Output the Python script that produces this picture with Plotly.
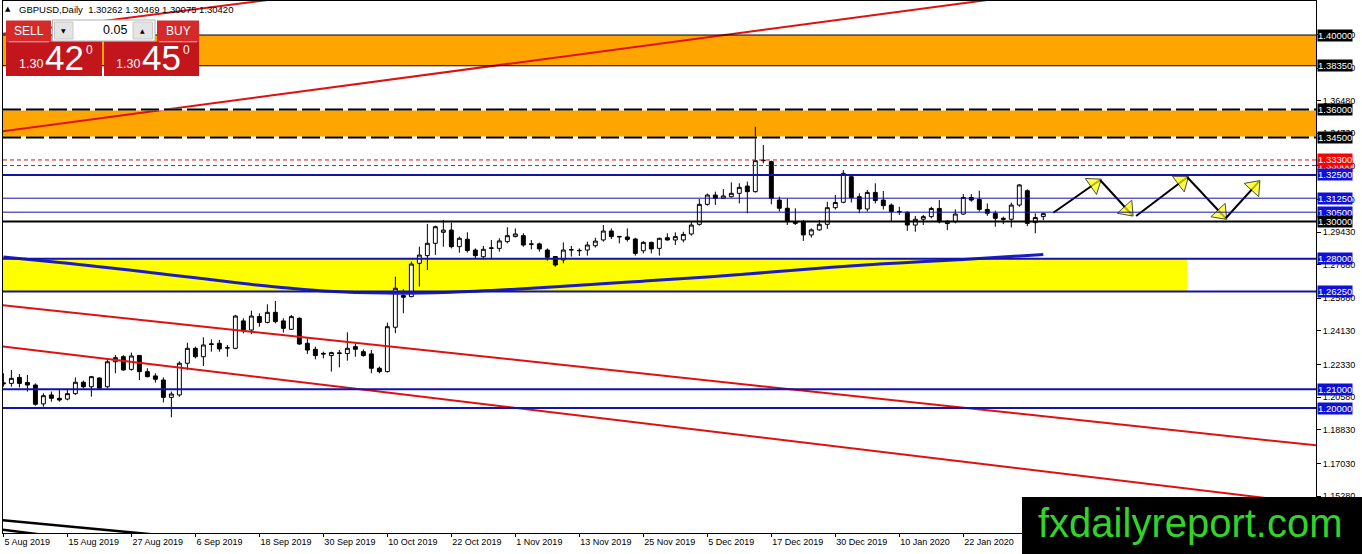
import numpy as np
import pandas as pd
import plotly.graph_objects as go

# ---------------- data ----------------
dates = pd.bdate_range("2019-08-05", "2020-02-05")
dates = dates[~dates.isin(pd.to_datetime(["2019-12-25", "2020-01-01"]))]

opens = [1.2135, 1.2132, 1.2164, 1.2137, 1.2123, 1.2022, 1.2070, 1.2052, 1.2048, 1.2077,
         1.2138, 1.2114, 1.2161, 1.2114, 1.2248, 1.2275, 1.2207, 1.2282, 1.2195, 1.2172,
         1.2150, 1.2057, 1.2070, 1.2240, 1.2320, 1.2275, 1.2344, 1.2347, 1.2323, 1.2320,
         1.2467, 1.2418, 1.2490, 1.2459, 1.2513, 1.2467, 1.2422, 1.2481, 1.2347, 1.2315,
         1.2293, 1.2281, 1.2292, 1.2292, 1.2329, 1.2302, 1.2290, 1.2213, 1.2195, 1.2433,
         1.2603, 1.2597, 1.2776, 1.2817, 1.2883, 1.2942, 1.2954, 1.2865, 1.2905, 1.2847,
         1.2811, 1.2856, 1.2856, 1.2892, 1.2919, 1.2924, 1.2880, 1.2880, 1.2847, 1.2812,
         1.2794, 1.2847, 1.2843, 1.2847, 1.2870, 1.2901, 1.2949, 1.2920, 1.2917, 1.2906,
         1.2843, 1.2888, 1.2856, 1.2913, 1.2901, 1.2901, 1.2933, 1.2985, 1.3092, 1.3142,
         1.3124, 1.3133, 1.3151, 1.3190, 1.3160, 1.3326, 1.3321, 1.3115, 1.3071, 1.2999,
         1.2999, 1.2928, 1.2955, 1.2985, 1.3074, 1.3103, 1.3240, 1.3133, 1.3067, 1.3156,
         1.3115, 1.3088, 1.3054, 1.3050, 1.2981, 1.3012, 1.3026, 1.3070, 1.2989, 1.2999,
         1.3040, 1.3129, 1.3118, 1.3065, 1.3044, 1.3017, 1.3012, 1.3088, 1.3165, 1.2994,
         1.30262]
highs = [1.2186, 1.2204, 1.2182, 1.2177, 1.2132, 1.2079, 1.2088, 1.2097, 1.2097, 1.2164,
         1.2147, 1.2172, 1.2164, 1.2257, 1.2284, 1.2284, 1.2297, 1.2284, 1.2213, 1.2186,
         1.2164, 1.2088, 1.2250, 1.2350, 1.2329, 1.2379, 1.2368, 1.2365, 1.2338, 1.2499,
         1.2481, 1.2522, 1.2508, 1.2556, 1.2574, 1.2481, 1.2499, 1.2486, 1.2374, 1.2329,
         1.2302, 1.2302, 1.2311, 1.2406, 1.2347, 1.2314, 1.2311, 1.2222, 1.2458, 1.2704,
         1.2637, 1.2785, 1.2865, 1.2987, 1.2978, 1.3008, 1.2994, 1.2919, 1.2942, 1.2856,
         1.2869, 1.2901, 1.2910, 1.2969, 1.2963, 1.2937, 1.2901, 1.2887, 1.2856, 1.2815,
         1.2888, 1.2869, 1.2856, 1.2892, 1.2913, 1.2981, 1.2963, 1.2922, 1.2963, 1.2913,
         1.2895, 1.2892, 1.2913, 1.2937, 1.2942, 1.2945, 1.3003, 1.3121, 1.3150, 1.3160,
         1.3174, 1.3210, 1.3205, 1.3214, 1.3508, 1.3410, 1.3326, 1.3133, 1.3124, 1.3071,
         1.3008, 1.2963, 1.3008, 1.3106, 1.3142, 1.3276, 1.3245, 1.3151, 1.3169, 1.3205,
         1.3164, 1.3097, 1.3079, 1.3053, 1.3030, 1.3035, 1.3079, 1.3115, 1.3008, 1.3065,
         1.3147, 1.3147, 1.3165, 1.3097, 1.3058, 1.3026, 1.3101, 1.3201, 1.3172, 1.3044,
         1.30469]
lows = [1.2114, 1.2114, 1.2110, 1.2088, 1.2012, 1.2007, 1.2034, 1.2034, 1.2041, 1.2070,
        1.2106, 1.2061, 1.2100, 1.2106, 1.2186, 1.2200, 1.2200, 1.2150, 1.2164, 1.2136,
        1.2030, 1.1950, 1.2060, 1.2204, 1.2266, 1.2225, 1.2302, 1.2302, 1.2275, 1.2315,
        1.2400, 1.2397, 1.2436, 1.2454, 1.2454, 1.2404, 1.2418, 1.2338, 1.2290, 1.2261,
        1.2266, 1.2195, 1.2218, 1.2254, 1.2275, 1.2275, 1.2186, 1.2186, 1.2191, 1.2401,
        1.2508, 1.2594, 1.2651, 1.2740, 1.2821, 1.2865, 1.2856, 1.2833, 1.2833, 1.2797,
        1.2797, 1.2797, 1.2838, 1.2883, 1.2915, 1.2865, 1.2851, 1.2838, 1.2790, 1.2758,
        1.2776, 1.2812, 1.2815, 1.2817, 1.2860, 1.2892, 1.2906, 1.2883, 1.2892, 1.2817,
        1.2829, 1.2829, 1.2817, 1.2897, 1.2874, 1.2888, 1.2924, 1.2978, 1.3085, 1.3089,
        1.3120, 1.3128, 1.3097, 1.3044, 1.3155, 1.3312, 1.3092, 1.3053, 1.2981, 1.2981,
        1.2896, 1.2914, 1.2950, 1.2960, 1.3064, 1.3098, 1.3102, 1.3044, 1.3053, 1.3097,
        1.3064, 1.2999, 1.3035, 1.2950, 1.2945, 1.2981, 1.3017, 1.2990, 1.2954, 1.2990,
        1.3035, 1.3106, 1.3053, 1.3030, 1.2972, 1.2986, 1.2968, 1.3079, 1.2975, 1.2937,
        1.30075]
closes = [1.2130, 1.2159, 1.2132, 1.2123, 1.2020, 1.2066, 1.2052, 1.2043, 1.2077, 1.2138,
          1.2114, 1.2168, 1.2106, 1.2248, 1.2270, 1.2204, 1.2279, 1.2195, 1.2168, 1.2154,
          1.2057, 1.2075, 1.2240, 1.2320, 1.2275, 1.2338, 1.2341, 1.2317, 1.2322, 1.2493,
          1.2415, 1.2493, 1.2459, 1.2513, 1.2463, 1.2427, 1.2490, 1.2343, 1.2311, 1.2281,
          1.2290, 1.2297, 1.2295, 1.2320, 1.2315, 1.2281, 1.2213, 1.2195, 1.2436, 1.2642,
          1.2594, 1.2772, 1.2820, 1.2883, 1.2972, 1.2954, 1.2865, 1.2910, 1.2844, 1.2817,
          1.2851, 1.2858, 1.2896, 1.2924, 1.2933, 1.2874, 1.2878, 1.2853, 1.2808, 1.2767,
          1.2847, 1.2849, 1.2845, 1.2874, 1.2895, 1.2949, 1.2919, 1.2918, 1.2904, 1.2829,
          1.2888, 1.2853, 1.2910, 1.2901, 1.2919, 1.2931, 1.2981, 1.3092, 1.3142, 1.3124,
          1.3137, 1.3151, 1.3183, 1.3160, 1.3326, 1.3328, 1.3124, 1.3071, 1.2999, 1.2990,
          1.2928, 1.2955, 1.2985, 1.3074, 1.3102, 1.3258, 1.3128, 1.3067, 1.3156, 1.3112,
          1.3085, 1.3053, 1.3052, 1.2981, 1.3012, 1.3026, 1.3070, 1.2999, 1.3001, 1.3040,
          1.3129, 1.3115, 1.3065, 1.3044, 1.3017, 1.3012, 1.3088, 1.3196, 1.2990, 1.3021,
          1.30420]

# moving average (bar index, value)
ma_idx = [0, 8, 16, 24, 32, 40, 48, 56, 64, 72, 80, 88, 96, 104, 112, 120, 130]
ma_val = [1.2810, 1.2776, 1.2738, 1.2698, 1.2658, 1.2628, 1.2616, 1.2621, 1.2637, 1.2658,
          1.2680, 1.2702, 1.2729, 1.2756, 1.2778, 1.2796, 1.2823]

# horizontal levels
level_black = [1.40000, 1.38350]
level_dashed = [1.36000, 1.34500]
level_red = [1.33000, 1.33300]
level_blue_thick = [1.32500, 1.28000, 1.26250, 1.21000, 1.20000]
level_blue_thin = [1.31250, 1.30500]
level_black_thick = [1.30000]

# zones
orange_zone_1 = [1.38350, 1.40000]
orange_zone_2 = [1.34500, 1.36000]
yellow_zone = [1.26250, 1.28000]
yellow_zone_end = 148.0

# trend lines: two anchors each (bar index, price)
up_line_main = [(-0.04, 1.34842), (120.84, 1.41753)]
up_line_upper = [(16.68, 1.40981), (30.43, 1.41732)]
down_line_upper = [(-0.04, 1.25512), (164.09, 1.17997)]
down_line_lower = [(-0.04, 1.23303), (152.7, 1.15442)]
black_line_a = [(-0.41, 1.13995), (16.84, 1.13298)]
black_line_b = [(-0.41, 1.13496), (3.16, 1.13298)]

# projected zig-zag arrows (bar index, price)
arrow_segments = [
    [(131.25, 1.30472), (137.1, 1.32225)],
    [(137.1, 1.32225), (141.1, 1.30349)],
    [(141.6, 1.30295), (148.0, 1.32370)],
    [(148.0, 1.32370), (152.8, 1.30172)],
    [(152.8, 1.30172), (156.96, 1.32134)],
]

y_ticks = [1.40030, 1.38230, 1.36480, 1.34730, 1.32980, 1.31180, 1.29430, 1.27680,
           1.25880, 1.24130, 1.22330, 1.20580, 1.18830, 1.17030, 1.15280, 1.13530]
x_tick_idx = list(range(0, 121, 8))
x_tick_text = [f"{dates[i].day} {dates[i].strftime('%b %Y')}" for i in x_tick_idx]

header_text = "GBPUSD,Daily  1.30262 1.30469 1.30075 1.30420"

# ---------------- geometry helpers ----------------
W, H = 1362, 554
L, R, T, B = 3, 1316, 1, 533
X_RANGE = [-0.05, 164.09]
Y_RANGE = [1.132976, 1.418231]


def px(x):
    return (x - L) / (R - L)


def py(y):
    return (B - y) / (B - T)


def extend(line, x0=-2.0, x1=170.0):
    (a, pa), (b, pb) = line
    s = (pb - pa) / (b - a)
    return [x0, x1], [pa + s * (x0 - a), pa + s * (x1 - a)]


FONT = "Liberation Sans"
BLUE_LINE = "#1313a8"
BLUE_LABEL = "#1010d8"
RED = "#e01010"

fig = go.Figure()

idx = list(range(len(opens)))
fig.add_trace(go.Candlestick(
    x=idx, open=opens, high=highs, low=lows, close=closes,
    increasing=dict(fillcolor="white", line=dict(color="black", width=1)),
    decreasing=dict(fillcolor="black", line=dict(color="black", width=1)),
    whiskerwidth=0, hoverinfo="skip", showlegend=False))

fig.add_trace(go.Scatter(x=ma_idx, y=ma_val, mode="lines",
                         line=dict(color="#1c1cc4", width=3, shape="spline", smoothing=1.0),
                         hoverinfo="skip"))

for ln, col, w in [(up_line_main, RED, 2), (up_line_upper, RED, 2),
                   (down_line_upper, RED, 2), (down_line_lower, RED, 2),
                   (black_line_a, "black", 2.5), (black_line_b, "black", 2.5)]:
    xs, ys = extend(ln)
    fig.add_trace(go.Scatter(x=xs, y=ys, mode="lines",
                             line=dict(color=col, width=w), hoverinfo="skip"))

for seg in arrow_segments:
    xs = [p[0] for p in seg]
    ys = [p[1] for p in seg]
    fig.add_trace(go.Scatter(x=xs, y=ys, mode="lines",
                             line=dict(color="black", width=2), hoverinfo="skip"))
    fig.add_trace(go.Scatter(
        x=xs, y=ys, mode="markers", hoverinfo="skip",
        marker=dict(symbol="triangle-up", size=[0, 17], color="#ffff00",
                    angleref="previous", standoff=7,
                    line=dict(color="black", width=1))))

shapes = []
# zones (background)
for z in (orange_zone_1, orange_zone_2):
    shapes.append(dict(type="rect", xref="paper", yref="y", x0=0, x1=1,
                       y0=z[0], y1=z[1], fillcolor="#ffa500", line=dict(width=0),
                       layer="below"))
shapes.append(dict(type="rect", xref="x", yref="y", x0=-2, x1=yellow_zone_end,
                   y0=yellow_zone[0], y1=yellow_zone[1], fillcolor="#ffff00",
                   line=dict(width=0), layer="below"))

# horizontal lines
for v in level_black:
    shapes.append(dict(type="line", xref="paper", yref="y", x0=0, x1=1, y0=v, y1=v,
                       line=dict(color="black", width=1), layer="above"))
for v in level_dashed:
    shapes.append(dict(type="line", xref="paper", yref="y", x0=0, x1=1, y0=v, y1=v,
                       line=dict(color="white", width=2), layer="above"))
    shapes.append(dict(type="line", xref="paper", yref="y", x0=0, x1=1, y0=v, y1=v,
                       line=dict(color="black", width=2, dash="18px,5px"), layer="above"))
for v in level_red:
    shapes.append(dict(type="line", xref="paper", yref="y", x0=0, x1=1, y0=v, y1=v,
                       line=dict(color=RED, width=1, dash="4px,3px"), layer="above"))
for v in level_blue_thick:
    shapes.append(dict(type="line", xref="paper", yref="y", x0=0, x1=1, y0=v, y1=v,
                       line=dict(color=BLUE_LINE, width=2), layer="above"))
for v in level_blue_thin:
    shapes.append(dict(type="line", xref="paper", yref="y", x0=0, x1=1, y0=v, y1=v,
                       line=dict(color=BLUE_LINE, width=1), layer="above"))
for v in level_black_thick:
    shapes.append(dict(type="line", xref="paper", yref="y", x0=0, x1=1, y0=v, y1=v,
                       line=dict(color="black", width=2), layer="above"))


def prect(x0, y0, x1, y1, fill, line=None):
    shapes.append(dict(type="rect", xref="paper", yref="paper",
                       x0=px(x0), x1=px(x1), y0=py(y1), y1=py(y0),
                       fillcolor=fill,
                       line=line if line else dict(width=0), layer="above"))


def pline(x0, y0, x1, y1, color, width=1):
    shapes.append(dict(type="line", xref="paper", yref="paper",
                       x0=px(x0), x1=px(x1), y0=py(y0), y1=py(y1),
                       line=dict(color=color, width=width), layer="above"))


# one-click trading panel
prect(6, 20.5, 51, 41.5, "#d42a2a")
prect(6, 41.5, 102, 76, "#c2161c")
pline(9, 41.8, 49, 41.8, "#f2b0b0", 1)
prect(157, 20.5, 199, 41.5, "#d42a2a")
prect(104, 41.5, 199, 76, "#c2161c")
pline(159, 41.8, 197, 41.8, "#f2b0b0", 1)
prect(52.5, 20, 155, 41, "white", dict(color="#b0b0b0", width=1))
prect(54.5, 22, 73, 39, "#e4e4e4", dict(color="#c8c8c8", width=1))
prect(133, 22, 152.5, 39, "#e4e4e4", dict(color="#c8c8c8", width=1))

# watermark
prect(1022, 497, 1366, 560, "black")

fig.update_layout(shapes=shapes)

ann = []


def ptext(x, y, text, size, color="white", xanchor="center", family=FONT):
    ann.append(dict(xref="paper", yref="paper", x=px(x), y=py(y), text=text,
                    showarrow=False, xanchor=xanchor, yanchor="middle",
                    font=dict(family=family, size=size, color=color)))


# level labels on the price scale
label_specs = ([(v, "black") for v in level_black + level_dashed] +
               [(v, "#ff0000") for v in level_red] +
               [(1.32500, BLUE_LABEL), (1.31250, BLUE_LABEL), (1.30500, BLUE_LABEL)] +
               [(v, "black") for v in level_black_thick] +
               [(v, BLUE_LABEL) for v in [1.28000, 1.26250, 1.21000, 1.20000]])
for v, c in label_specs:
    ann.append(dict(xref="paper", yref="y", x=1, y=v, xanchor="left", yanchor="middle",
                    xshift=1, text=f"{v:.5f}", showarrow=False, bgcolor=c,
                    borderpad=0, font=dict(family=FONT, size=9.5, color="white")))

# header + panel texts
ptext(8, 8.5, "▲", 7, "black", "center", "DejaVu Sans")
ptext(17, 9, header_text, 9.5, "black", "left")
ptext(28.5, 31, "SELL", 12)
ptext(178, 31, "BUY", 12)
ptext(63.5, 31, "▼", 6, "black", "center", "DejaVu Sans")
ptext(142.5, 30.5, "▲", 6, "black", "center", "DejaVu Sans")
ptext(129, 30.5, "0.05", 12.5, "black", "right")
ptext(45, 64, "1.30", 12.5, "white", "right")
ptext(64.5, 57, "42", 35, "white", "center")
ptext(89.5, 50, "0", 12, "white", "center")
ptext(142, 64, "1.30", 12.5, "white", "right")
ptext(161, 57, "45", 35, "white", "center")
ptext(186, 50, "0", 12, "white", "center")
ptext(1190, 523, "fxdailyreport.com", 40, "#33d42a", "center")

fig.update_layout(annotations=ann)

fig.update_layout(
    width=W, height=H,
    margin=dict(l=L, r=W - R, t=T, b=H - B, pad=0),
    paper_bgcolor="white", plot_bgcolor="white",
    showlegend=False,
    xaxis=dict(range=X_RANGE, rangeslider=dict(visible=False),
               tickmode="array", tickvals=x_tick_idx, ticktext=x_tick_text,
               ticks="outside", ticklen=3, tickcolor="black", tickwidth=1,
               ticklabelposition="outside right",
               showline=True, linecolor="black", linewidth=1, mirror=True,
               showgrid=False, zeroline=False,
               tickfont=dict(family=FONT, size=9, color="black")),
    yaxis=dict(range=Y_RANGE, side="right",
               tickmode="array", tickvals=y_ticks,
               ticktext=[f"{v:.5f}" for v in y_ticks],
               ticks="outside", ticklen=4, tickcolor="black", tickwidth=1,
               showline=True, linecolor="black", linewidth=1, mirror=True,
               showgrid=False, zeroline=False,
               tickfont=dict(family=FONT, size=9, color="black")),
)

fig.write_html("out.html", config={"displayModeBar": False},
               post_script="document.body.style.margin='0';document.body.style.overflow='hidden';")
